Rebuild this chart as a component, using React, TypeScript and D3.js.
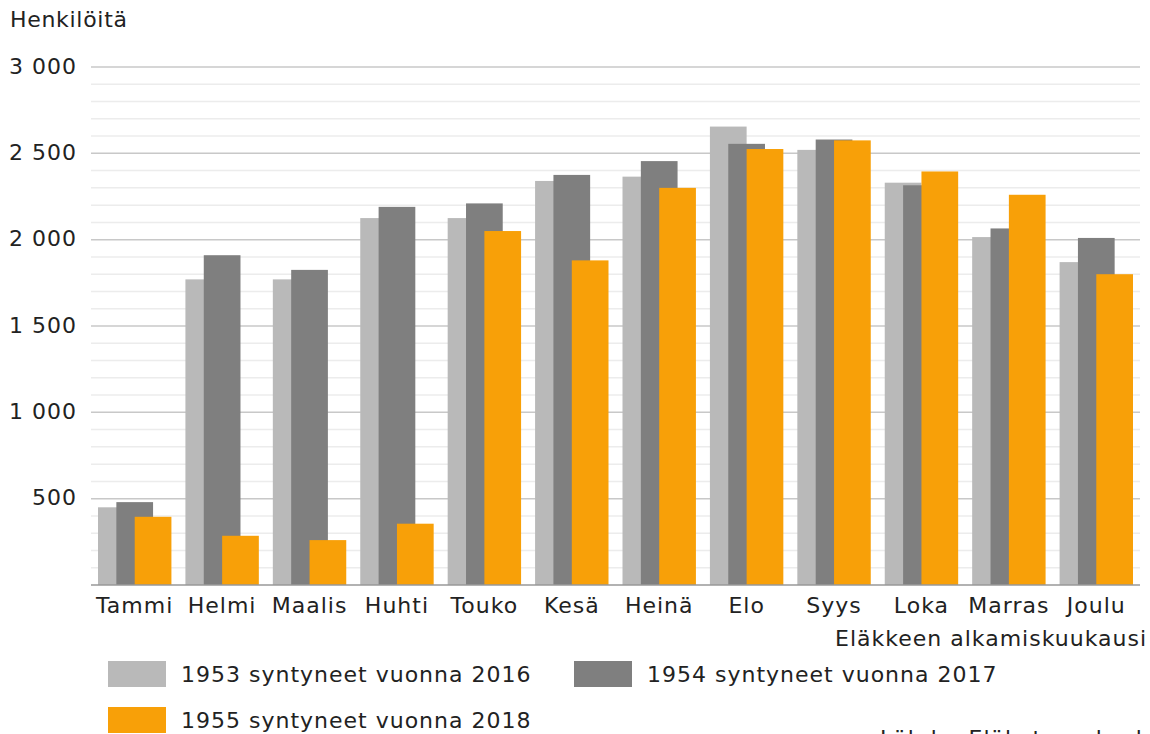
import * as d3 from 'd3';

const months = ['Tammi', 'Helmi', 'Maalis', 'Huhti', 'Touko', 'Kesä', 'Heinä', 'Elo', 'Syys', 'Loka', 'Marras', 'Joulu'];
const born1953 = [450, 1770, 1770, 2125, 2125, 2340, 2365, 2655, 2520, 2330, 2015, 1870];
const born1954 = [480, 1910, 1825, 2190, 2210, 2375, 2455, 2555, 2580, 2315, 2065, 2010];
const born1955 = [395, 285, 260, 355, 2050, 1880, 2300, 2525, 2575, 2395, 2260, 1800];
const seriesNames = ['1953 syntyneet vuonna 2016', '1954 syntyneet vuonna 2017', '1955 syntyneet vuonna 2018'];
const seriesColors = ['#b9b9b9', '#7f7f7f', '#f8a008'];
const majorTicks = [500, 1000, 1500, 2000, 2500, 3000];
const tickLabels = ['500', '1 000', '1 500', '2 000', '2 500', '3 000'];

const W = 1150;
const H = 734;
const left = 91;
const right = 1140;
const top = 67;
const bottom = 585;
const font = 'Verdana, "DejaVu Sans", sans-serif';
const fs = 22;
const ls = 1;

export default function App() {
  const x = d3.scaleBand<string>().domain(months).range([left, right]).paddingInner(0).paddingOuter(0);
  const y = d3.scaleLinear().domain([0, 3000]).range([bottom, top]);
  const minor = d3.range(100, 3001, 100).filter((v) => v % 500 !== 0);
  const series = [born1953, born1954, born1955];
  const pad = 7;
  const step = (x.bandwidth() - 2 * pad) / 4;
  const barW = step * 2;

  return (
    <svg width={W} height={H} style={{ position: 'absolute', left: 0, top: 0, background: '#fff' }} fontFamily={font} fontSize={fs} letterSpacing={ls} fill="#222">
      <text x={10} y={27} letterSpacing={0.7}>Henkilöitä</text>
      {minor.map((v) => (
        <line key={v} x1={left} x2={right} y1={y(v)} y2={y(v)} stroke="#ececec" strokeWidth={1.5} />
      ))}
      {majorTicks.map((v, i) => (
        <g key={v}>
          <line x1={left} x2={right} y1={y(v)} y2={y(v)} stroke="#c8c8c8" strokeWidth={1.5} />
          <text x={77} y={y(v)} dy="0.3em" textAnchor="end">{tickLabels[i]}</text>
        </g>
      ))}
      {series.map((vals, s) => (
        <g key={s}>
          {vals.map((v, i) => (
            <rect key={i} x={(x(months[i]) ?? 0) + pad + s * step} y={y(v)} width={barW} height={bottom - y(v)} fill={seriesColors[s]} />
          ))}
        </g>
      ))}
      <line x1={left} x2={right} y1={bottom} y2={bottom} stroke="#999" strokeWidth={1.5} />
      {months.map((m) => (
        <text key={m} x={(x(m) ?? 0) + x.bandwidth() / 2} y={613} textAnchor="middle">{m}</text>
      ))}
      <text x={1147} y={646} textAnchor="end">Eläkkeen alkamiskuukausi</text>
      {seriesNames.map((name, i) => {
        const lx = i === 1 ? 574 : 108;
        const ly = i === 2 ? 707 : 661;
        return (
          <g key={name}>
            <rect x={lx} y={ly} width={58} height={26} fill={seriesColors[i]} />
            <text x={lx + 73} y={ly + 13} dy="0.35em">{name}</text>
          </g>
        );
      })}
      <text x={880} y={746}>Lähde: Eläketurvakeskus</text>
    </svg>
  );
}
